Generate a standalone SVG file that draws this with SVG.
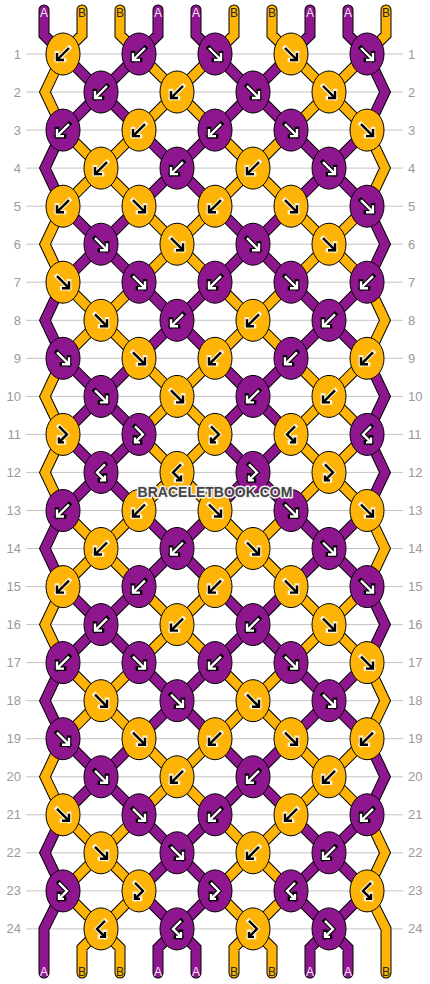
<svg xmlns="http://www.w3.org/2000/svg" width="430" height="984" viewBox="0 0 430 984">
<style>
.grid{fill:none;stroke:#c4c4c4;stroke-width:1}
.num{font-family:"Liberation Sans",Arial,sans-serif;font-size:13px;fill:#9a9a9a}
.nl{text-anchor:end}
.so{fill:none;stroke:#000;stroke-width:11;stroke-linecap:round;stroke-linejoin:miter}
.sp{fill:none;stroke:#8e178f;stroke-width:9;stroke-linecap:round;stroke-linejoin:miter}
.sr{fill:none;stroke:#fdb406;stroke-width:9;stroke-linecap:round;stroke-linejoin:miter}
.p{fill:#8e178f;stroke:#000;stroke-width:1}
.o{fill:#fdb406;stroke:#000;stroke-width:1}
.ab{fill:none;stroke:#000;stroke-width:4.6;stroke-linecap:square}
.aw{fill:none;stroke:#fff;stroke-width:2.4;stroke-linecap:butt}
.hw{fill:none;stroke:#fff;stroke-width:4.6;stroke-linecap:square;stroke-opacity:0.85}
.ak{fill:none;stroke:#000;stroke-width:2.4;stroke-linecap:butt}
.lbl{font-family:"Liberation Sans",Arial,sans-serif;font-size:12px;text-anchor:middle}
.la{fill:#f4eaf4}
.lb{fill:#2a2a2a}
.wm{font-family:"Liberation Sans",Arial,sans-serif;font-size:14px;font-weight:bold;fill:#444;stroke:#f2f2f2;stroke-width:3;paint-order:stroke;stroke-linejoin:round;text-anchor:middle}
</style>
<defs>
<path id="bw" d="M6,-6L-6,6M-6,-1V6H1"/>
<path id="fw" d="M-6,-6L6,6M6,-1V6H-1"/>
<path id="fb" d="M-4,-8L4,0L-4,8M-4,3V8H1"/>
<path id="bf" d="M4,-8L-4,0L4,8M4,3V8H-1"/>
<g id="bwW"><use href="#bw" class="ab"/><use href="#bw" class="aw"/></g>
<g id="fwW"><use href="#fw" class="ab"/><use href="#fw" class="aw"/></g>
<g id="fbW"><use href="#fb" class="ab"/><use href="#fb" class="aw"/></g>
<g id="bfW"><use href="#bf" class="ab"/><use href="#bf" class="aw"/></g>
<g id="bwK"><use href="#bw" class="hw"/><use href="#bw" class="ak"/></g>
<g id="fwK"><use href="#fw" class="hw"/><use href="#fw" class="ak"/></g>
<g id="fbK"><use href="#fb" class="hw"/><use href="#fb" class="ak"/></g>
<g id="bfK"><use href="#bf" class="hw"/><use href="#bf" class="ak"/></g>
<path id="purpleStrands" d="M44,10V35L63,54M158,10V35L139,54M196,10V35L215,54M310,10V35L291,54M348,10V35L367,54
M63,54L139,130.1M139,54L63,130.1M215,54L291,130.1M291,54L215,130.1M367,54L385,92L367,130.1
M139,130.1L215,206.2M215,130.1L139,206.2M291,130.1L367,206.2M367,130.1L291,206.2M63,130.1L45,168.1L63,206.2
M63,206.2L139,282.2M139,206.2L63,282.2M215,206.2L291,282.2M291,206.2L215,282.2M367,206.2L385,244.2L367,282.2
M139,282.2L215,358.3M215,282.2L139,358.3M291,282.2L367,358.3M367,282.2L291,358.3M63,282.2L45,320.3L63,358.3
M63,358.3L139,434.4M139,358.3L63,434.4M215,358.3L291,434.4M291,358.3L215,434.4M367,358.3L385,396.4L367,434.4
M63,434.4L139,510.5M139,434.4L63,510.5M215,434.4L291,510.5M291,434.4L215,510.5M367,434.4L385,472.4L367,510.5
M139,510.5L215,586.6M215,510.5L139,586.6M291,510.5L367,586.6M367,510.5L291,586.6M63,510.5L45,548.5L63,586.6
M63,586.6L139,662.6M139,586.6L63,662.6M215,586.6L291,662.6M291,586.6L215,662.6M367,586.6L385,624.6L367,662.6
M139,662.6L215,738.7M215,662.6L139,738.7M291,662.6L367,738.7M367,662.6L291,738.7M63,662.6L45,700.7L63,738.7
M63,738.7L139,814.8M139,738.7L63,814.8M215,738.7L291,814.8M291,738.7L215,814.8M367,738.7L385,776.8L367,814.8
M139,814.8L215,890.9M215,814.8L139,890.9M291,814.8L367,890.9M367,814.8L291,890.9M63,814.8L45,852.8L63,890.9
M139,890.9L177,928.9L215,890.9M158,973V947.9L177,928.9L196,947.9V973M291,890.9L329,928.9L367,890.9M310,973V947.9L329,928.9L348,947.9V973M63,890.9L44,928.9V973"/>
<path id="orangeStrands" d="M82,10V35L63,54M120,10V35L139,54M234,10V35L215,54M272,10V35L291,54M386,10V35L367,54
M139,54L215,130.1M215,54L139,130.1M291,54L367,130.1M367,54L291,130.1M63,54L45,92L63,130.1
M63,130.1L139,206.2M139,130.1L63,206.2M215,130.1L291,206.2M291,130.1L215,206.2M367,130.1L385,168.1L367,206.2
M139,206.2L215,282.2M215,206.2L139,282.2M291,206.2L367,282.2M367,206.2L291,282.2M63,206.2L45,244.2L63,282.2
M63,282.2L139,358.3M139,282.2L63,358.3M215,282.2L291,358.3M291,282.2L215,358.3M367,282.2L385,320.3L367,358.3
M139,358.3L215,434.4M215,358.3L139,434.4M291,358.3L367,434.4M367,358.3L291,434.4M63,358.3L45,396.4L63,434.4
M139,434.4L215,510.5M215,434.4L139,510.5M291,434.4L367,510.5M367,434.4L291,510.5M63,434.4L45,472.4L63,510.5
M63,510.5L139,586.6M139,510.5L63,586.6M215,510.5L291,586.6M291,510.5L215,586.6M367,510.5L385,548.5L367,586.6
M139,586.6L215,662.6M215,586.6L139,662.6M291,586.6L367,662.6M367,586.6L291,662.6M63,586.6L45,624.6L63,662.6
M63,662.6L139,738.7M139,662.6L63,738.7M215,662.6L291,738.7M291,662.6L215,738.7M367,662.6L385,700.7L367,738.7
M139,738.7L215,814.8M215,738.7L139,814.8M291,738.7L367,814.8M367,738.7L291,814.8M63,738.7L45,776.8L63,814.8
M63,814.8L139,890.9M139,814.8L63,890.9M215,814.8L291,890.9M291,814.8L215,890.9M367,814.8L385,852.8L367,890.9
M63,890.9L101,928.9L139,890.9M82,973V947.9L101,928.9L120,947.9V973M215,890.9L253,928.9L291,890.9M234,973V947.9L253,928.9L272,947.9V973M367,890.9L386,928.9V973"/>
</defs>
<rect width="430" height="984" fill="#fff"/>
<g id="rows">
<path class="grid" d="M26,54H403M26,92H403M26,130.1H403M26,168.1H403M26,206.2H403M26,244.2H403M26,282.2H403M26,320.3H403M26,358.3H403M26,396.4H403M26,434.4H403M26,472.4H403M26,510.5H403M26,548.5H403M26,586.6H403M26,624.6H403M26,662.6H403M26,700.7H403M26,738.7H403M26,776.8H403M26,814.8H403M26,852.8H403M26,890.9H403M26,928.9H403"/>
<g class="num nl">
<text x="21" y="58.5">1</text><text x="21" y="96.5">2</text><text x="21" y="134.6">3</text><text x="21" y="172.6">4</text><text x="21" y="210.7">5</text><text x="21" y="248.7">6</text><text x="21" y="286.7">7</text><text x="21" y="324.8">8</text><text x="21" y="362.8">9</text><text x="21" y="400.9">10</text><text x="21" y="438.9">11</text><text x="21" y="476.9">12</text><text x="21" y="515">13</text><text x="21" y="553">14</text><text x="21" y="591.1">15</text><text x="21" y="629.1">16</text><text x="21" y="667.1">17</text><text x="21" y="705.2">18</text><text x="21" y="743.2">19</text><text x="21" y="781.3">20</text><text x="21" y="819.3">21</text><text x="21" y="857.3">22</text><text x="21" y="895.4">23</text><text x="21" y="933.4">24</text>
</g>
<g class="num">
<text x="408" y="58.5">1</text><text x="408" y="96.5">2</text><text x="408" y="134.6">3</text><text x="408" y="172.6">4</text><text x="408" y="210.7">5</text><text x="408" y="248.7">6</text><text x="408" y="286.7">7</text><text x="408" y="324.8">8</text><text x="408" y="362.8">9</text><text x="408" y="400.9">10</text><text x="408" y="438.9">11</text><text x="408" y="476.9">12</text><text x="408" y="515">13</text><text x="408" y="553">14</text><text x="408" y="591.1">15</text><text x="408" y="629.1">16</text><text x="408" y="667.1">17</text><text x="408" y="705.2">18</text><text x="408" y="743.2">19</text><text x="408" y="781.3">20</text><text x="408" y="819.3">21</text><text x="408" y="857.3">22</text><text x="408" y="895.4">23</text><text x="408" y="933.4">24</text>
</g>
</g>
<g id="connectors">
<use href="#purpleStrands" class="so"/>
<use href="#orangeStrands" class="so"/>
<use href="#purpleStrands" class="sp"/>
<use href="#orangeStrands" class="sr"/>
</g>
<g id="knots">
<g id="k1-1" transform="translate(63,54)"><ellipse class="o" rx="17" ry="21"/><use href="#bwK"/></g>
<g id="k1-2" transform="translate(139,54)"><ellipse class="p" rx="17" ry="21"/><use href="#bwW"/></g>
<g id="k1-3" transform="translate(215,54)"><ellipse class="p" rx="17" ry="21"/><use href="#fwW"/></g>
<g id="k1-4" transform="translate(291,54)"><ellipse class="o" rx="17" ry="21"/><use href="#fwK"/></g>
<g id="k1-5" transform="translate(367,54)"><ellipse class="p" rx="17" ry="21"/><use href="#fwW"/></g>
<g id="k2-1" transform="translate(101,92)"><ellipse class="p" rx="17" ry="21"/><use href="#bwW"/></g>
<g id="k2-2" transform="translate(177,92)"><ellipse class="o" rx="17" ry="21"/><use href="#bwK"/></g>
<g id="k2-3" transform="translate(253,92)"><ellipse class="p" rx="17" ry="21"/><use href="#fwW"/></g>
<g id="k2-4" transform="translate(329,92)"><ellipse class="o" rx="17" ry="21"/><use href="#fwK"/></g>
<g id="k3-1" transform="translate(63,130.1)"><ellipse class="p" rx="17" ry="21"/><use href="#bwW"/></g>
<g id="k3-2" transform="translate(139,130.1)"><ellipse class="o" rx="17" ry="21"/><use href="#bwK"/></g>
<g id="k3-3" transform="translate(215,130.1)"><ellipse class="p" rx="17" ry="21"/><use href="#bwW"/></g>
<g id="k3-4" transform="translate(291,130.1)"><ellipse class="p" rx="17" ry="21"/><use href="#fwW"/></g>
<g id="k3-5" transform="translate(367,130.1)"><ellipse class="o" rx="17" ry="21"/><use href="#fwK"/></g>
<g id="k4-1" transform="translate(101,168.1)"><ellipse class="o" rx="17" ry="21"/><use href="#bwK"/></g>
<g id="k4-2" transform="translate(177,168.1)"><ellipse class="p" rx="17" ry="21"/><use href="#bwW"/></g>
<g id="k4-3" transform="translate(253,168.1)"><ellipse class="o" rx="17" ry="21"/><use href="#bwK"/></g>
<g id="k4-4" transform="translate(329,168.1)"><ellipse class="p" rx="17" ry="21"/><use href="#fwW"/></g>
<g id="k5-1" transform="translate(63,206.2)"><ellipse class="o" rx="17" ry="21"/><use href="#bwK"/></g>
<g id="k5-2" transform="translate(139,206.2)"><ellipse class="o" rx="17" ry="21"/><use href="#fwK"/></g>
<g id="k5-3" transform="translate(215,206.2)"><ellipse class="o" rx="17" ry="21"/><use href="#bwK"/></g>
<g id="k5-4" transform="translate(291,206.2)"><ellipse class="o" rx="17" ry="21"/><use href="#fwK"/></g>
<g id="k5-5" transform="translate(367,206.2)"><ellipse class="p" rx="17" ry="21"/><use href="#fwW"/></g>
<g id="k6-1" transform="translate(101,244.2)"><ellipse class="p" rx="17" ry="21"/><use href="#fwW"/></g>
<g id="k6-2" transform="translate(177,244.2)"><ellipse class="o" rx="17" ry="21"/><use href="#fwK"/></g>
<g id="k6-3" transform="translate(253,244.2)"><ellipse class="p" rx="17" ry="21"/><use href="#fwW"/></g>
<g id="k6-4" transform="translate(329,244.2)"><ellipse class="o" rx="17" ry="21"/><use href="#fwK"/></g>
<g id="k7-1" transform="translate(63,282.2)"><ellipse class="o" rx="17" ry="21"/><use href="#fwK"/></g>
<g id="k7-2" transform="translate(139,282.2)"><ellipse class="p" rx="17" ry="21"/><use href="#fwW"/></g>
<g id="k7-3" transform="translate(215,282.2)"><ellipse class="p" rx="17" ry="21"/><use href="#bwW"/></g>
<g id="k7-4" transform="translate(291,282.2)"><ellipse class="p" rx="17" ry="21"/><use href="#fwW"/></g>
<g id="k7-5" transform="translate(367,282.2)"><ellipse class="p" rx="17" ry="21"/><use href="#bwW"/></g>
<g id="k8-1" transform="translate(101,320.3)"><ellipse class="o" rx="17" ry="21"/><use href="#fwK"/></g>
<g id="k8-2" transform="translate(177,320.3)"><ellipse class="p" rx="17" ry="21"/><use href="#bwW"/></g>
<g id="k8-3" transform="translate(253,320.3)"><ellipse class="o" rx="17" ry="21"/><use href="#bwK"/></g>
<g id="k8-4" transform="translate(329,320.3)"><ellipse class="p" rx="17" ry="21"/><use href="#bwW"/></g>
<g id="k9-1" transform="translate(63,358.3)"><ellipse class="p" rx="17" ry="21"/><use href="#fwW"/></g>
<g id="k9-2" transform="translate(139,358.3)"><ellipse class="o" rx="17" ry="21"/><use href="#fwK"/></g>
<g id="k9-3" transform="translate(215,358.3)"><ellipse class="o" rx="17" ry="21"/><use href="#bwK"/></g>
<g id="k9-4" transform="translate(291,358.3)"><ellipse class="p" rx="17" ry="21"/><use href="#bwW"/></g>
<g id="k9-5" transform="translate(367,358.3)"><ellipse class="o" rx="17" ry="21"/><use href="#bwK"/></g>
<g id="k10-1" transform="translate(101,396.4)"><ellipse class="p" rx="17" ry="21"/><use href="#fwW"/></g>
<g id="k10-2" transform="translate(177,396.4)"><ellipse class="o" rx="17" ry="21"/><use href="#fwK"/></g>
<g id="k10-3" transform="translate(253,396.4)"><ellipse class="p" rx="17" ry="21"/><use href="#bwW"/></g>
<g id="k10-4" transform="translate(329,396.4)"><ellipse class="o" rx="17" ry="21"/><use href="#bwK"/></g>
<g id="k11-1" transform="translate(63,434.4)"><ellipse class="o" rx="17" ry="21"/><use href="#fbK"/></g>
<g id="k11-2" transform="translate(139,434.4)"><ellipse class="p" rx="17" ry="21"/><use href="#fbW"/></g>
<g id="k11-3" transform="translate(215,434.4)"><ellipse class="o" rx="17" ry="21"/><use href="#fbK"/></g>
<g id="k11-4" transform="translate(291,434.4)"><ellipse class="o" rx="17" ry="21"/><use href="#bfK"/></g>
<g id="k11-5" transform="translate(367,434.4)"><ellipse class="p" rx="17" ry="21"/><use href="#bfW"/></g>
<g id="k12-1" transform="translate(101,472.4)"><ellipse class="p" rx="17" ry="21"/><use href="#bfW"/></g>
<g id="k12-2" transform="translate(177,472.4)"><ellipse class="o" rx="17" ry="21"/><use href="#bfK"/></g>
<g id="k12-3" transform="translate(253,472.4)"><ellipse class="p" rx="17" ry="21"/><use href="#fbW"/></g>
<g id="k12-4" transform="translate(329,472.4)"><ellipse class="o" rx="17" ry="21"/><use href="#fbK"/></g>
<g id="k13-1" transform="translate(63,510.5)"><ellipse class="p" rx="17" ry="21"/><use href="#bwW"/></g>
<g id="k13-2" transform="translate(139,510.5)"><ellipse class="o" rx="17" ry="21"/><use href="#bwK"/></g>
<g id="k13-3" transform="translate(215,510.5)"><ellipse class="o" rx="17" ry="21"/><use href="#fwK"/></g>
<g id="k13-4" transform="translate(291,510.5)"><ellipse class="p" rx="17" ry="21"/><use href="#fwW"/></g>
<g id="k13-5" transform="translate(367,510.5)"><ellipse class="o" rx="17" ry="21"/><use href="#fwK"/></g>
<g id="k14-1" transform="translate(101,548.5)"><ellipse class="o" rx="17" ry="21"/><use href="#bwK"/></g>
<g id="k14-2" transform="translate(177,548.5)"><ellipse class="p" rx="17" ry="21"/><use href="#bwW"/></g>
<g id="k14-3" transform="translate(253,548.5)"><ellipse class="o" rx="17" ry="21"/><use href="#fwK"/></g>
<g id="k14-4" transform="translate(329,548.5)"><ellipse class="p" rx="17" ry="21"/><use href="#fwW"/></g>
<g id="k15-1" transform="translate(63,586.6)"><ellipse class="o" rx="17" ry="21"/><use href="#bwK"/></g>
<g id="k15-2" transform="translate(139,586.6)"><ellipse class="p" rx="17" ry="21"/><use href="#bwW"/></g>
<g id="k15-3" transform="translate(215,586.6)"><ellipse class="o" rx="17" ry="21"/><use href="#bwK"/></g>
<g id="k15-4" transform="translate(291,586.6)"><ellipse class="o" rx="17" ry="21"/><use href="#fwK"/></g>
<g id="k15-5" transform="translate(367,586.6)"><ellipse class="p" rx="17" ry="21"/><use href="#fwW"/></g>
<g id="k16-1" transform="translate(101,624.6)"><ellipse class="p" rx="17" ry="21"/><use href="#bwW"/></g>
<g id="k16-2" transform="translate(177,624.6)"><ellipse class="o" rx="17" ry="21"/><use href="#bwK"/></g>
<g id="k16-3" transform="translate(253,624.6)"><ellipse class="p" rx="17" ry="21"/><use href="#bwW"/></g>
<g id="k16-4" transform="translate(329,624.6)"><ellipse class="o" rx="17" ry="21"/><use href="#fwK"/></g>
<g id="k17-1" transform="translate(63,662.6)"><ellipse class="p" rx="17" ry="21"/><use href="#bwW"/></g>
<g id="k17-2" transform="translate(139,662.6)"><ellipse class="p" rx="17" ry="21"/><use href="#fwW"/></g>
<g id="k17-3" transform="translate(215,662.6)"><ellipse class="p" rx="17" ry="21"/><use href="#bwW"/></g>
<g id="k17-4" transform="translate(291,662.6)"><ellipse class="p" rx="17" ry="21"/><use href="#fwW"/></g>
<g id="k17-5" transform="translate(367,662.6)"><ellipse class="o" rx="17" ry="21"/><use href="#fwK"/></g>
<g id="k18-1" transform="translate(101,700.7)"><ellipse class="o" rx="17" ry="21"/><use href="#fwK"/></g>
<g id="k18-2" transform="translate(177,700.7)"><ellipse class="p" rx="17" ry="21"/><use href="#fwW"/></g>
<g id="k18-3" transform="translate(253,700.7)"><ellipse class="o" rx="17" ry="21"/><use href="#fwK"/></g>
<g id="k18-4" transform="translate(329,700.7)"><ellipse class="p" rx="17" ry="21"/><use href="#fwW"/></g>
<g id="k19-1" transform="translate(63,738.7)"><ellipse class="p" rx="17" ry="21"/><use href="#fwW"/></g>
<g id="k19-2" transform="translate(139,738.7)"><ellipse class="o" rx="17" ry="21"/><use href="#fwK"/></g>
<g id="k19-3" transform="translate(215,738.7)"><ellipse class="o" rx="17" ry="21"/><use href="#bwK"/></g>
<g id="k19-4" transform="translate(291,738.7)"><ellipse class="o" rx="17" ry="21"/><use href="#fwK"/></g>
<g id="k19-5" transform="translate(367,738.7)"><ellipse class="o" rx="17" ry="21"/><use href="#bwK"/></g>
<g id="k20-1" transform="translate(101,776.8)"><ellipse class="p" rx="17" ry="21"/><use href="#fwW"/></g>
<g id="k20-2" transform="translate(177,776.8)"><ellipse class="o" rx="17" ry="21"/><use href="#bwK"/></g>
<g id="k20-3" transform="translate(253,776.8)"><ellipse class="p" rx="17" ry="21"/><use href="#bwW"/></g>
<g id="k20-4" transform="translate(329,776.8)"><ellipse class="o" rx="17" ry="21"/><use href="#bwK"/></g>
<g id="k21-1" transform="translate(63,814.8)"><ellipse class="o" rx="17" ry="21"/><use href="#fwK"/></g>
<g id="k21-2" transform="translate(139,814.8)"><ellipse class="p" rx="17" ry="21"/><use href="#fwW"/></g>
<g id="k21-3" transform="translate(215,814.8)"><ellipse class="p" rx="17" ry="21"/><use href="#bwW"/></g>
<g id="k21-4" transform="translate(291,814.8)"><ellipse class="o" rx="17" ry="21"/><use href="#bwK"/></g>
<g id="k21-5" transform="translate(367,814.8)"><ellipse class="p" rx="17" ry="21"/><use href="#bwW"/></g>
<g id="k22-1" transform="translate(101,852.8)"><ellipse class="o" rx="17" ry="21"/><use href="#fwK"/></g>
<g id="k22-2" transform="translate(177,852.8)"><ellipse class="p" rx="17" ry="21"/><use href="#fwW"/></g>
<g id="k22-3" transform="translate(253,852.8)"><ellipse class="o" rx="17" ry="21"/><use href="#bwK"/></g>
<g id="k22-4" transform="translate(329,852.8)"><ellipse class="p" rx="17" ry="21"/><use href="#bwW"/></g>
<g id="k23-1" transform="translate(63,890.9)"><ellipse class="p" rx="17" ry="21"/><use href="#fbW"/></g>
<g id="k23-2" transform="translate(139,890.9)"><ellipse class="o" rx="17" ry="21"/><use href="#fbK"/></g>
<g id="k23-3" transform="translate(215,890.9)"><ellipse class="p" rx="17" ry="21"/><use href="#fbW"/></g>
<g id="k23-4" transform="translate(291,890.9)"><ellipse class="p" rx="17" ry="21"/><use href="#bfW"/></g>
<g id="k23-5" transform="translate(367,890.9)"><ellipse class="o" rx="17" ry="21"/><use href="#bfK"/></g>
<g id="k24-1" transform="translate(101,928.9)"><ellipse class="o" rx="17" ry="21"/><use href="#bfK"/></g>
<g id="k24-2" transform="translate(177,928.9)"><ellipse class="p" rx="17" ry="21"/><use href="#bfW"/></g>
<g id="k24-3" transform="translate(253,928.9)"><ellipse class="o" rx="17" ry="21"/><use href="#fbK"/></g>
<g id="k24-4" transform="translate(329,928.9)"><ellipse class="p" rx="17" ry="21"/><use href="#fbW"/></g>
</g>
<g id="labels" class="lbl">
<text class="la" x="44" y="17">A</text><text class="lb" x="82" y="17">B</text><text class="lb" x="120" y="17">B</text><text class="la" x="158" y="17">A</text><text class="la" x="196" y="17">A</text><text class="lb" x="234" y="17">B</text><text class="lb" x="272" y="17">B</text><text class="la" x="310" y="17">A</text><text class="la" x="348" y="17">A</text><text class="lb" x="386" y="17">B</text>
<text class="la" x="44" y="976">A</text><text class="lb" x="82" y="976">B</text><text class="lb" x="120" y="976">B</text><text class="la" x="158" y="976">A</text><text class="la" x="196" y="976">A</text><text class="lb" x="234" y="976">B</text><text class="lb" x="272" y="976">B</text><text class="la" x="310" y="976">A</text><text class="la" x="348" y="976">A</text><text class="lb" x="386" y="976">B</text>
</g>
<text class="wm" x="215" y="497">BRACELETBOOK.COM</text>
</svg>
